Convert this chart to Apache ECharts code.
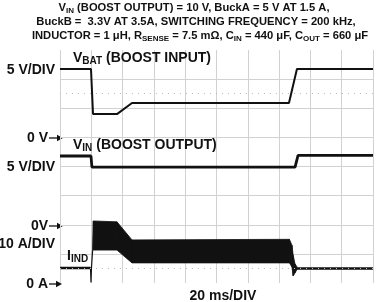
<!DOCTYPE html>
<html><head><meta charset="utf-8">
<script src="https://cdn.jsdelivr.net/npm/echarts@6/dist/echarts.min.js"></script>
<style>html,body{margin:0;padding:0;background:#fff}#c{width:389px;height:302px}</style>
</head><body><div id="c"></div>
<script>
// time in ms (20 ms/div, 10 div), vertical values in screen divisions (8 div)
const vbatT   = [0, 19.8, 21.1, 36.4, 46.0, 146.3, 151.4, 200];
const vbatDiv = [7.35, 7.35, 5.80, 5.80, 6.18, 6.18, 7.35, 7.35];
const vinT    = [0, 19.8, 20.4, 150.2, 152.1, 200];
const vinDiv  = [4.36, 4.36, 3.98, 3.98, 4.38, 4.38];
const iindPreT   = [0, 19.5, 19.8, 20.1, 20.8];
const iindPreDiv = [0.515, 0.515, 0.02, 0.515, 1.1];
const iindPostT   = [151.0, 200];
const iindPostDiv = [0.50, 0.50];
const bandT     = [20.8, 21.3, 36.4, 46.0, 146.6, 148.2, 149.0, 150.2, 151.4];
const bandUpper = [1.15, 2.13, 2.10, 1.48, 1.50, 1.30, 0.95, 0.65, 0.56];
const bandLower = [1.10, 1.13, 1.13, 0.69, 0.69, 0.55, 0.24, 0.35, 0.46];
const dottedLevels = [6.5, 0.5];

const zip = (a, b) => a.map((v, i) => [v, b[i]]);
const ink = '#111';
const F = 'Liberation Sans';

const chart = echarts.init(document.getElementById('c'), null, {renderer: 'canvas'});
const arrow = (x1, x2, y) => ({
  type: 'group', children: [
    {type: 'line', shape: {x1: x1, y1: y, x2: x2 - 4, y2: y}, style: {stroke: ink, lineWidth: 1.3}},
    {type: 'polygon', shape: {points: [[x2, y], [x2 - 6, y - 3.2], [x2 - 6, y + 3.2]]}, style: {fill: ink}}
  ]
});
const txt = (x, y, text, align) => ({
  type: 'text', x: x, y: y,
  style: {text: text, fill: ink, font: 'bold 14px ' + F, align: align || 'left', verticalAlign: 'middle'}
});
const subRich = {
  m: {fontSize: 14, fontWeight: 'bold', fontFamily: F, color: ink, lineHeight: 16},
  s: {fontSize: 10, fontWeight: 'bold', fontFamily: F, color: ink, lineHeight: 8, verticalAlign: 'bottom'}
};
const titleRich = {
  m: {fontSize: 11.2, fontWeight: 'bold', fontFamily: F, color: ink, lineHeight: 14},
  s: {fontSize: 8, fontWeight: 'bold', fontFamily: F, color: ink, lineHeight: 7, verticalAlign: 'bottom'}
};
const tt = (text, left, top, align, rich) => ({
  text: text, left: left, top: top, padding: 0, textAlign: align, itemGap: 0,
  textStyle: {rich: rich, fontWeight: 'bold', fontFamily: F, color: ink}
});

chart.setOption({
  animation: false,
  title: [
    tt('{m|V}{s|IN}{m| (BOOST OUTPUT) = 10 V, BuckA = 5 V AT 1.5 A,}', 194, 1, 'center', titleRich),
    tt('{m|BuckB =  3.3V AT 3.5A, SWITCHING FREQUENCY = 200 kHz,}', 196, 15, 'center', titleRich),
    tt('{m|INDUCTOR = 1 μH, R}{s|SENSE}{m| = 7.5 mΩ, C}{s|IN}{m| = 440 μF, C}{s|OUT}{m| = 660 μF}', 200, 29, 'center', titleRich),
    tt('{m|V}{s|BAT}{m| (BOOST INPUT)}', 73, 50, 'left', subRich),
    tt('{m|V}{s|IN}{m| (BOOST OUTPUT)}', 73, 137, 'left', subRich),
    tt('{m|I}{s|IND}', 67, 248, 'left', subRich)
  ],
  grid: {left: 60, right: 16, top: 50, bottom: 19},
  xAxis: {type: 'value', min: 0, max: 200, interval: 20,
    axisLine: {show: false}, axisTick: {show: false}, axisLabel: {show: false},
    splitLine: {show: true, lineStyle: {color: '#d2d2d2', width: 1}}},
  yAxis: [
    {type: 'value', min: 0, max: 8, interval: 1,
      axisLine: {show: false}, axisTick: {show: false}, axisLabel: {show: false},
      splitLine: {show: true, showMinLine: false, showMaxLine: false, lineStyle: {color: '#d2d2d2', width: 1}}}
  ],
  series: [
    {type: 'line', data: [], silent: true,
      markLine: {silent: true, symbol: 'none', label: {show: false},
        lineStyle: {color: '#bdbdbd', type: [1, 5], width: 1},
        data: dottedLevels.map(v => ({yAxis: v}))}},
    {type: 'custom', silent: true, z: 3,
      data: zip(bandT, bandUpper),
      renderItem: function (params, api) {
        const i = params.dataIndex;
        if (i >= bandT.length - 1) return null;
        const pts = [
          api.coord([bandT[i], bandLower[i]]), api.coord([bandT[i + 1], bandLower[i + 1]]),
          api.coord([bandT[i + 1], bandUpper[i + 1]]), api.coord([bandT[i], bandUpper[i]])
        ];
        return {type: 'polygon', shape: {points: pts}, style: {fill: ink, stroke: ink, lineWidth: 0.8}};
      }},
    {type: 'line', data: zip(vbatT, vbatDiv), symbol: 'none', lineStyle: {color: ink, width: 2}, z: 4},
    {type: 'line', data: zip(vinT, vinDiv), symbol: 'none', lineStyle: {color: ink, width: 2.8}, z: 4},
    {type: 'line', data: zip(iindPreT, iindPreDiv), symbol: 'none', lineStyle: {color: ink, width: 1.2}, z: 4},
    {type: 'line', data: zip(iindPreT, iindPreDiv).slice(0, 2), symbol: 'none', lineStyle: {color: ink, width: 2.6}, z: 4},
    {type: 'line', data: zip(iindPostT, iindPostDiv), symbol: 'none', lineStyle: {color: ink, width: 2.6}, z: 4}
  ],
  graphic: [
    txt(55, 70, '5 V/DIV', 'right'),
    txt(48, 138, '0 V', 'right'), arrow(49, 63, 138),
    txt(55, 167, '5 V/DIV', 'right'),
    txt(48, 226, '0V', 'right'), arrow(49, 63, 226),
    txt(55, 244, '10 A/DIV', 'right'),
    txt(48, 284, '0 A', 'right'), arrow(49, 62, 284),
    txt(223, 296, '20 ms/DIV', 'center')
  ]
});
</script></body></html>
